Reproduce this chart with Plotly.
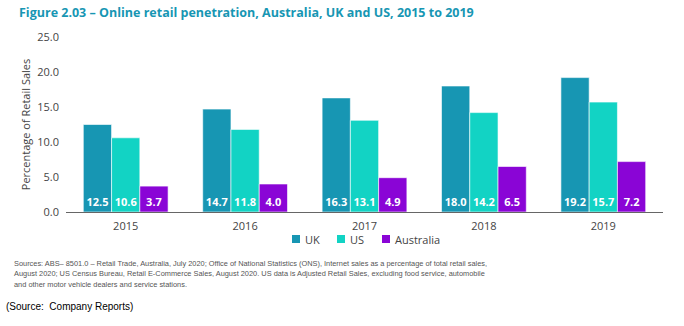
import plotly.graph_objects as go

years = ["2015", "2016", "2017", "2018", "2019"]
uk = [12.5, 14.7, 16.3, 18.0, 19.2]
us = [10.6, 11.8, 13.1, 14.2, 15.7]
australia = [3.7, 4.0, 4.9, 6.5, 7.2]

series_names = ["UK", "US", "Australia"]
series_values = [uk, us, australia]
series_colors = ["#1796b3", "#12d3c4", "#8a05d6"]

source_lines = [
    "Sources: ABS– 8501.0 – Retail Trade, Australia, July 2020; Office of National Statistics (ONS), Internet sales as a percentage of total retail sales,",
    "August 2020; US Census Bureau, Retail E-Commerce Sales, August 2020. US data is Adjusted Retail Sales, excluding food service, automobile",
    "and other motor vehicle dealers and service stations.",
]

# plot-area geometry in pixels (used to place the hand-drawn legend and notes)
W, H = 684, 326
ML, MR, MT, MB = 66, 21, 37, 114
PW, PH = W - ML - MR, H - MT - MB


def px_x(px):
    return (px - ML) / PW


def px_y(py):
    return (H - MB - py) / PH


fig = go.Figure()
for name, vals, col in zip(series_names, series_values, series_colors):
    fig.add_trace(go.Bar(
        x=years, y=vals, name=name,
        marker=dict(color=col, line=dict(color="white", width=0.6)),
        text=[f"{v:.1f}" for v in vals],
        textposition="inside", insidetextanchor="start",
        textangle=0,
        textfont=dict(color="white", size=11, family="Open Sans", weight="bold"),
        showlegend=False,
    ))

fig.update_layout(
    width=W, height=H,
    margin=dict(l=ML, r=MR, t=MT, b=MB),
    paper_bgcolor="white", plot_bgcolor="white",
    barmode="group", bargap=0.29, bargroupgap=0,
    font=dict(family="Open Sans", color="#444444", size=11),
    xaxis=dict(showgrid=False, showline=True, linecolor="#666666", linewidth=1,
               ticks="", tickfont=dict(size=11, color="#444444"), ticklabelstandoff=4),
    yaxis=dict(range=[0, 25], tickvals=[0, 5, 10, 15, 20, 25],
               ticktext=["0.0", "5.0", "10.0", "15.0", "20.0", "25.0"],
               showgrid=False, zeroline=False, showline=False, ticks="",
               tickfont=dict(size=11, color="#444444"), ticklabelstandoff=6,
               title=dict(text="Percentage of Retail Sales", font=dict(size=11, color="#444444"),
                          standoff=4)),
)

# legend: small squares with labels, centred under the plot
legend_x = [292, 337, 382]
legend_y = 239
for name, col, lx in zip(series_names, series_colors, legend_x):
    fig.add_shape(type="rect", xref="paper", yref="paper",
                  x0=px_x(lx), x1=px_x(lx + 8), y0=px_y(legend_y + 4), y1=px_y(legend_y - 4),
                  fillcolor=col, line=dict(width=0))
    fig.add_annotation(text=name, xref="paper", yref="paper",
                       x=px_x(lx + 11), y=px_y(legend_y), xanchor="left", yanchor="middle",
                       showarrow=False, font=dict(size=11, color="#444444"))

fig.add_annotation(
    text="<b>Figure 2.03 – Online retail penetration, Australia, UK and US, 2015 to 2019</b>",
    xref="paper", yref="paper", x=px_x(17), y=px_y(13), xanchor="left", yanchor="middle",
    showarrow=False, font=dict(size=12.5, color="#1796b3", family="Open Sans"),
)

# source notes, one line each
for i, line in enumerate(source_lines):
    fig.add_annotation(
        text=line, xref="paper", yref="paper", x=px_x(12), y=px_y(263 + 10.5 * i),
        xanchor="left", yanchor="middle", showarrow=False, align="left",
        font=dict(size=7.4, color="#555555", family="Liberation Sans, sans-serif"),
    )

fig.add_annotation(
    text="(Source:  Company Reports)",
    xref="paper", yref="paper", x=px_x(4), y=px_y(306), xanchor="left", yanchor="middle",
    showarrow=False, align="left",
    font=dict(size=10, color="#000000", family="Liberation Sans, sans-serif"),
)

fig.write_html("out.html")
